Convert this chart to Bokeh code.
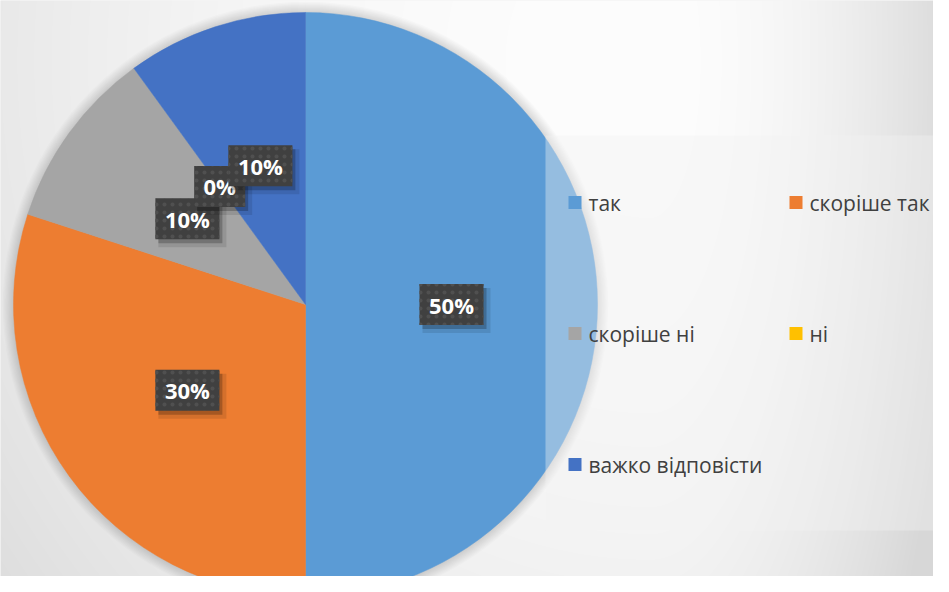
import numpy as np
from bokeh.plotting import figure
from bokeh.models import Range1d
from bokeh.embed import file_html
from bokeh.resources import INLINE
from bokeh.core.properties import value

# ---- data ----
categories = ["так", "скоріше так", "скоріше ні", "ні", "важко відповісти"]
values = [50, 30, 10, 0, 10]
colors = ["#5B9BD5", "#ED7D31", "#A5A5A5", "#FFC000", "#4472C4"]
labels = ["50%", "30%", "10%", "0%", "10%"]

W, H = 949, 592
def sy(y):  # screen y -> data y
    return H - y

p = figure(width=933, height=576, x_range=Range1d(0, 933), y_range=Range1d(16, 592),
           output_backend="svg", toolbar_location=None, min_border=0)
p.axis.visible = False
p.grid.visible = False
p.outline_line_color = None
p.background_fill_color = "#ececec"
p.border_fill_color = "#ececec"

# ---- background gradient ----
xs = np.arange(W) + 0.5
ys_screen = H - (np.arange(H) + 0.5)
X, Y = np.meshgrid(xs, ys_screen)
dx = X - 650.0
Lx = np.where(dx < 0, 860.0, 300.0)
r2 = (dx / Lx) ** 2 + ((Y - 60.0) / 935.0) ** 2
v = np.clip(253 - np.minimum(38, 35 * r2), 0, 255).astype(np.uint8)
img = np.empty((H, W), dtype=np.uint32)
view = img.view(dtype=np.uint8).reshape((H, W, 4))
view[..., 0] = v
view[..., 1] = v
view[..., 2] = v
view[..., 3] = 255
p.image_rgba(image=[img], x=0, y=0, dw=W, dh=H)

# ---- pie ----
cx, cy, R = 305.0, sy(304), 292.0
for k in range(1, 10):
    p.circle(x=[cx], y=[cy], radius=R + k * 1.2, fill_color="black",
             fill_alpha=0.016, line_color=None)

total = float(sum(values))
cum = np.cumsum([0] + values)
starts = np.pi / 2 - 2 * np.pi * cum[:-1] / total
ends = np.pi / 2 - 2 * np.pi * cum[1:] / total
mids = (starts + ends) / 2

for i, val in enumerate(values):
    if val <= 0:
        continue
    p.wedge(x=[cx], y=[cy], radius=R, start_angle=float(starts[i]), end_angle=float(ends[i]),
            direction="clock", fill_color=colors[i], line_color=colors[i], line_width=0.5)

# ---- legend panel (semi-transparent) ----
p.quad(left=545, right=949, bottom=sy(530), top=sy(135), fill_color="#f2f2f2",
       fill_alpha=0.39, line_color=None)

col_x = [568, 789]
row_mid = [202, 333, 464]
for i, cat in enumerate(categories):
    mx = col_x[i % 2]
    my = row_mid[i // 2]
    p.rect(x=[mx + 6.5], y=[sy(my)], width=13, height=13,
           fill_color=colors[i], line_color=None)
    p.text(x=[mx + 20], y=[sy(my)], text=[cat], text_font=value("Open Sans"),
           text_font_size="21px", text_color="#404040", text_baseline="middle",
           text_align="left")

# ---- data labels ----
for i, lab in enumerate(labels):
    lx = cx + 0.5 * R * np.cos(mids[i])
    ly = cy + 0.5 * R * np.sin(mids[i])
    bw = 13 * len(lab) + 25
    bh = 41
    p.rect(x=[lx + 5], y=[ly - 6], width=bw + 4, height=bh + 4,
           fill_color="black", fill_alpha=0.10, line_color=None)
    p.rect(x=[lx + 3], y=[ly - 4], width=bw, height=bh,
           fill_color="black", fill_alpha=0.22, line_color=None)
    p.rect(x=[lx], y=[ly], width=bw, height=bh, fill_color="#404040", line_color=None,
           hatch_pattern="dot", hatch_color="#505050", hatch_scale=8, hatch_weight=0.8)
    p.text(x=[lx], y=[ly], text=[lab], text_font=value("Open Sans"),
           text_font_size="22px", text_font_style="bold", text_color="white",
           text_align="center", text_baseline="middle")

open("out.html", "w").write(file_html(p, INLINE))
